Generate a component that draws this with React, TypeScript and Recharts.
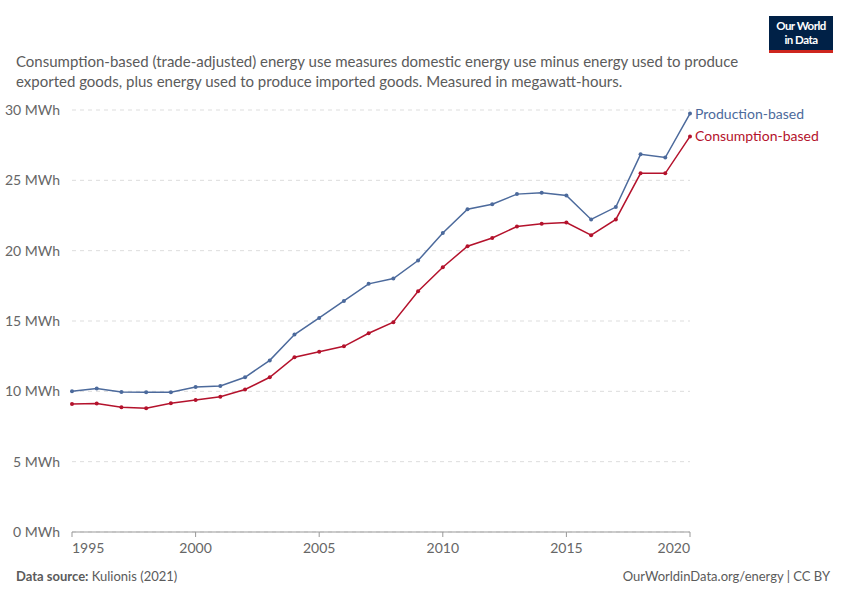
import { CartesianGrid, Line, LineChart, XAxis, YAxis } from "recharts";

const years = [
  1995, 1996, 1997, 1998, 1999, 2000, 2001, 2002, 2003, 2004, 2005, 2006, 2007,
  2008, 2009, 2010, 2011, 2012, 2013, 2014, 2015, 2016, 2017, 2018, 2019, 2020,
];
const production = [
  10.0, 10.2, 9.95, 9.93, 9.93, 10.3, 10.38, 11.0, 12.2, 14.04, 15.22, 16.43,
  17.64, 18.02, 19.3, 21.25, 22.95, 23.3, 24.02, 24.12, 23.92, 22.22, 23.1,
  26.85, 26.62, 29.75,
];
const consumption = [
  9.1, 9.14, 8.87, 8.8, 9.15, 9.38, 9.62, 10.13, 11.0, 12.43, 12.82, 13.2,
  14.13, 14.92, 17.12, 18.82, 20.32, 20.9, 21.72, 21.92, 22.0, 21.1, 22.22,
  25.5, 25.5, 28.12,
];
const yTicks = [0, 5, 10, 15, 20, 25, 30];
const xTicks = [1995, 2000, 2005, 2010, 2015, 2020];

const data = years.map((year, i) => ({
  year,
  production: production[i],
  consumption: consumption[i],
}));

const BLUE = "#4c6a9c";
const RED = "#b4122c";
const FONT = "Lato, 'Noto Sans', sans-serif";

const XTick = (props: any) => {
  const { x, y, payload } = props;
  let anchor = "middle";
  if (payload.value === 1995) anchor = "start";
  if (payload.value === 2020) anchor = "end";
  return (
    <text x={x} y={y + 14} textAnchor={anchor} fill="#666" fontSize={14} fontFamily={FONT}>
      {payload.value}
    </text>
  );
};

const endLabel = (name: string, color: string) => (props: any) => {
  const { x, y, index } = props;
  if (index !== years.length - 1) return null;
  return (
    <text x={x + 5} y={y + 5} fill={color} fontSize={14} fontFamily={FONT}>
      {name}
    </text>
  );
};

export default function App() {
  return (
    <div
      style={{
        position: "absolute",
        left: 0,
        top: 0,
        width: 850,
        height: 600,
        background: "#fff",
        fontFamily: FONT,
      }}
    >
      <div
        style={{
          position: "absolute",
          left: 16,
          top: 51,
          width: 740,
          fontSize: 15,
          lineHeight: "20px",
          color: "#5b5b5b",
        }}
      >
        Consumption-based (trade-adjusted) energy use measures domestic energy use minus energy
        used to produce exported goods, plus energy used to produce imported goods. Measured in
        megawatt-hours.
      </div>

      <div
        style={{
          position: "absolute",
          left: 769,
          top: 16,
          width: 64,
          height: 31,
          background: "#002147",
          borderBottom: "3px solid #ce261e",
          color: "#fff",
          fontSize: 11.5,
          fontWeight: 700,
          lineHeight: "14px",
          textAlign: "center",
          paddingTop: 3,
          boxSizing: "content-box",
          letterSpacing: -0.5,
        }}
      >
        <div>Our World</div>
        <div>in Data</div>
      </div>

      <LineChart
        width={850}
        height={600}
        data={data}
        margin={{ top: 110, right: 160, left: 0, bottom: 0 }}
        style={{ position: "absolute", left: 0, top: 0 }}
      >
        <CartesianGrid vertical={false} stroke="#ddd" strokeDasharray="4 4" />
        <XAxis
          dataKey="year"
          type="number"
          domain={[1995, 2020]}
          ticks={xTicks}
          stroke="#999"
          tickSize={5}
          tick={<XTick />}
          height={68}
        />
        <YAxis
          type="number"
          domain={[0, 30]}
          ticks={yTicks}
          width={72}
          axisLine={false}
          tickLine={false}
          tickFormatter={(v: number) => `${v} MWh`}
          tick={{ fill: "#666", fontSize: 14, fontFamily: FONT }}
          tickMargin={6}
        />
        <Line
          dataKey="production"
          stroke={BLUE}
          strokeWidth={1.5}
          dot={{ r: 2, fill: BLUE, stroke: BLUE, strokeWidth: 0 }}
          isAnimationActive={false}
          label={endLabel("Production-based", BLUE)}
        />
        <Line
          dataKey="consumption"
          stroke={RED}
          strokeWidth={1.5}
          dot={{ r: 2, fill: RED, stroke: RED, strokeWidth: 0 }}
          isAnimationActive={false}
          label={endLabel("Consumption-based", RED)}
        />
      </LineChart>

      <div
        style={{
          position: "absolute",
          left: 16,
          top: 568,
          fontSize: 13,
          color: "#5b5b5b",
        }}
      >
        <b>Data source:</b> Kulionis (2021)
      </div>
      <div
        style={{
          position: "absolute",
          right: 20,
          top: 568,
          fontSize: 13,
          color: "#5b5b5b",
        }}
      >
        OurWorldinData.org/energy | CC BY
      </div>
    </div>
  );
}
